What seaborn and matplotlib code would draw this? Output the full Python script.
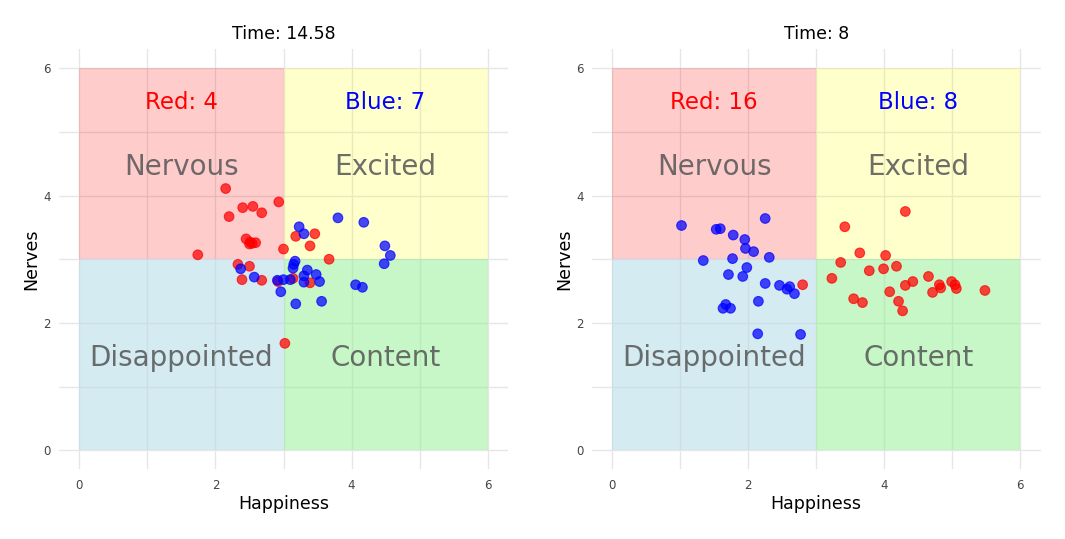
import matplotlib
matplotlib.use("Agg")
import matplotlib.pyplot as plt
import seaborn as sns
import pandas as pd
from matplotlib.patches import Rectangle

# ---------------- data ----------------
titles = ["Time: 14.58", "Time: 8"]
red_counts = [4, 16]
blue_counts = [7, 8]

left_red_x = [2.15, 2.40, 2.55, 2.68, 2.93, 2.20, 2.45, 2.51, 2.54, 2.59, 2.50, 3.00, 1.74,
              3.18, 3.46, 3.39, 3.67, 2.33, 2.50, 2.39, 2.68, 2.92, 3.14, 3.39, 3.02]
left_red_y = [4.11, 3.81, 3.83, 3.73, 3.90, 3.67, 3.32, 3.27, 3.25, 3.26, 3.24, 3.16, 3.07,
              3.36, 3.40, 3.21, 3.00, 2.92, 2.89, 2.68, 2.67, 2.65, 2.70, 2.63, 1.68]
left_blue_x = [3.80, 4.18, 3.23, 3.30, 4.49, 4.57, 4.48, 3.17, 3.15, 3.14, 2.37, 3.35, 3.48,
               3.30, 3.30, 3.53, 2.57, 2.91, 3.00, 3.10, 2.96, 4.06, 4.16, 3.18, 3.56]
left_blue_y = [3.65, 3.58, 3.51, 3.40, 3.21, 3.06, 2.93, 2.97, 2.92, 2.86, 2.85, 2.83, 2.76,
               2.74, 2.64, 2.65, 2.72, 2.67, 2.68, 2.68, 2.49, 2.60, 2.56, 2.30, 2.34]

right_red_x = [4.31, 3.42, 3.64, 4.02, 3.36, 3.78, 3.99, 4.18, 3.23, 4.65, 4.42, 4.31, 4.81,
               4.83, 4.99, 5.04, 5.06, 5.48, 4.08, 4.71, 3.55, 3.68, 4.21, 4.27, 2.80]
right_red_y = [3.75, 3.51, 3.10, 3.06, 2.95, 2.82, 2.85, 2.89, 2.70, 2.73, 2.65, 2.59, 2.60,
               2.55, 2.65, 2.60, 2.54, 2.51, 2.49, 2.48, 2.38, 2.32, 2.34, 2.19, 2.60]
right_blue_x = [1.02, 2.25, 1.53, 1.59, 1.78, 1.95, 1.96, 2.08, 2.31, 1.34, 1.77, 1.98, 1.71,
                1.92, 2.25, 2.46, 2.61, 2.57, 2.68, 2.15, 1.67, 1.63, 1.74, 2.14, 2.77]
right_blue_y = [3.53, 3.64, 3.47, 3.48, 3.38, 3.31, 3.17, 3.12, 3.03, 2.98, 3.01, 2.87, 2.76,
                2.73, 2.62, 2.59, 2.57, 2.53, 2.46, 2.34, 2.29, 2.23, 2.23, 1.83, 1.82]

quadrant_names = ["Nervous", "Excited", "Disappointed", "Content"]

# ---------------- plotting ----------------
sns.set_theme(style="white")
plt.rcParams['font.family'] = ['DejaVu Sans']

fig = plt.figure(figsize=(10.65, 5.39), dpi=100)
axes = [fig.add_axes([0.0554, 0.129, 0.4216, 0.780]),
        fig.add_axes([0.5556, 0.129, 0.4216, 0.780])]

panels = [
    (left_red_x, left_red_y, left_blue_x, left_blue_y),
    (right_red_x, right_red_y, right_blue_x, right_blue_y),
]

quad_rects = [((0, 3), "#ff0000", 0.2), ((3, 3), "#ffff00", 0.2),
              ((0, 0), "#add8e6", 0.5), ((3, 0), "#90ee90", 0.5)]
quad_text_pos = [(1.5, 4.5), (4.5, 4.5), (1.5, 1.5), (4.5, 1.5)]

for i, ax in enumerate(axes):
    rx, ry, bx, by = panels[i]
    df = pd.DataFrame({
        "Happiness": list(rx) + list(bx),
        "Nerves": list(ry) + list(by),
        "team": ["Red"] * len(rx) + ["Blue"] * len(bx),
    })
    ax.set_axisbelow(True)
    for (xy, col, a) in quad_rects:
        ax.add_patch(Rectangle(xy, 3, 3, facecolor=col, alpha=a, edgecolor="none", zorder=1))
    for name, (tx, ty) in zip(quadrant_names, quad_text_pos):
        ax.text(tx, ty, name, ha="center", va="center_baseline", fontsize=20, color="#555555",
                alpha=0.85, zorder=2)
    ax.text(1.5, 5.5, f"Red: {red_counts[i]}", ha="center", va="center_baseline", fontsize=16.5,
            color="red", zorder=2)
    ax.text(4.5, 5.5, f"Blue: {blue_counts[i]}", ha="center", va="center_baseline", fontsize=16.5,
            color="blue", zorder=2)

    sns.scatterplot(data=df, x="Happiness", y="Nerves", hue="team",
                    palette={"Red": "#ff0000", "Blue": "#0000ff"},
                    s=48, alpha=0.72, edgecolor="face", linewidth=0.8,
                    legend=False, ax=ax, zorder=3)

    ax.set_xlim(-0.3, 6.3)
    ax.set_ylim(-0.3, 6.3)
    ax.set_xticks([0, 2, 4, 6])
    ax.set_yticks([0, 2, 4, 6])
    ax.set_xticks([1, 3, 5], minor=True)
    ax.set_yticks([1, 3, 5], minor=True)
    ax.grid(True, which="both", color="#e6e6e6", linewidth=1.0)
    ax.tick_params(axis="both", which="both", length=0, labelsize=8.5,
                   labelcolor="#444444")
    ax.tick_params(axis="x", pad=7)
    ax.tick_params(axis="y", pad=6)
    for sp in ax.spines.values():
        sp.set_visible(False)
    ax.set_xlabel("Happiness", fontsize=12.5, color="black", labelpad=2)
    ax.set_ylabel("Nerves", fontsize=12.5, color="black", labelpad=2)
    ax.set_title(titles[i], fontsize=12.5, color="black", pad=7)

fig.savefig("out.png", dpi=100)
